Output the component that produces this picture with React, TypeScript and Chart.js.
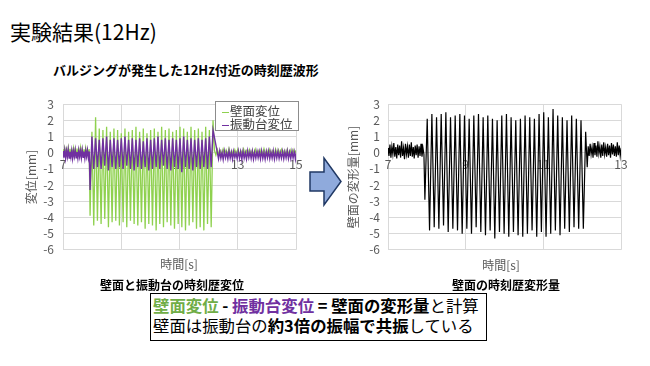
import React, { useEffect, useRef } from "react";
import { Chart, registerables } from "chart.js";

Chart.register(...registerables);

const FONT = "'Noto Sans CJK JP', 'Noto Sans', sans-serif";
const TICK_COLOR = "#595959";
const GRID_COLOR = "#D9D9D9";
const GREEN = "#8FD14F";
const PURPLE = "#7030A0";
const BLACK = "#000000";

// ---------- Axis ranges / tick steps ----------
const Y_MIN = -6;
const Y_MAX = 3;
const Y_STEP = 1;
const LEFT_X_MIN = 7;
const LEFT_X_MAX = 15;
const RIGHT_X_MIN = 7;
const RIGHT_X_MAX = 13;
const X_STEP = 2;

// ---------- Left chart: 壁面変位 (green) ----------
const WALL_PRE_START = 7.0;
const WALL_PRE_STEP = 0.03;
const WALL_PRE = [0.22, -0.12, 0.27, -0.06, 0.2, -0.14, 0.3, -0.09, 0.24, -0.12, 0.17, -0.07, 0.28, -0.14, 0.22, -0.05, 0.26, -0.12, 0.19, -0.08, 0.32, -0.13, 0.23, -0.06, 0.21, -0.1, 0.29, -0.12, 0.18, -0.07, 0.22];
const WALL_OSC_START = 7.93;
const WALL_OSC_STEP = 0.063;
const WALL_LOWS = [-3.9, -4.5, -4.2, -4.4, -4.1, -4.6, -4.3, -4.2, -4.5, -4.3, -4.6, -4.2, -4.4, -4.5, -4.3, -4.7, -4.4, -4.5, -4.8, -4.4, -4.6, -4.3, -4.5, -4.7, -4.4, -4.6, -4.8, -4.5, -4.3, -4.7, -4.6, -4.8, -4.4, -4.6];
const WALL_HIGHS = [1.3, 2.2, 1.5, 1.4, 1.6, 1.3, 1.5, 1.4, 1.2, 1.5, 1.3, 1.4, 1.6, 1.3, 1.5, 1.2, 1.4, 1.5, 1.3, 1.6, 1.4, 1.5, 1.3, 1.4, 1.6, 1.5, 1.3, 1.6, 1.4, 1.5, 1.3, 1.6, 1.4, 2.0];
const WALL_POST_START = 12.2;
const WALL_POST_STEP = 0.05;
const WALL_POST = [0.15, -0.15, 0.2, -0.1, 0.12, -0.18, 0.22, -0.08, 0.16, -0.14, 0.25, -0.12, 0.1, -0.16, 0.18, -0.1, 0.2, -0.15, 0.14, -0.08, 0.23, -0.13, 0.12, -0.17, 0.19, -0.09, 0.16, -0.14, 0.21, -0.11, 0.13, -0.16, 0.18, -0.1, 0.24, -0.12, 0.15, -0.15, 0.2, -0.09, 0.12, -0.17, 0.22, -0.1, 0.17, -0.13, 0.19, -0.11, 0.14, -0.16, 0.21, -0.08, 0.16, -0.14, 0.18, -0.1, 0.15];

// ---------- Left chart: 振動台変位 (purple) ----------
const TABLE_PRE_START = 7.0;
const TABLE_PRE_STEP = 0.03;
const TABLE_PRE = [0.1, -0.3, 0.16, -0.34, 0.12, -0.26, 0.19, -0.33, 0.06, -0.28, 0.14, -0.36, 0.1, -0.24, 0.18, -0.31, 0.04, -0.35, 0.15, -0.25, 0.11, -0.32, 0.17, -0.29, 0.07, -0.35, 0.13, -0.24, 0.16, -0.31, 0.08];
const TABLE_OSC_START = 7.93;
const TABLE_OSC_STEP = 0.063;
const TABLE_LOWS = [-2.3, -1.0, -0.9, -1.0, -0.8, -1.1, -0.9, -1.0, -0.9, -1.0, -0.8, -1.0, -1.1, -0.9, -1.0, -0.9, -1.1, -1.0, -0.9, -1.0, -0.8, -1.0, -1.1, -0.9, -1.0, -1.2, -0.9, -1.0, -1.1, -0.9, -1.0, -0.9, -1.0, -0.9];
const TABLE_HIGHS = [1.0, 0.9, 0.8, 0.9, 1.0, 0.8, 0.9, 0.8, 0.9, 1.0, 0.8, 0.9, 0.8, 0.9, 0.7, 0.9, 0.8, 0.9, 1.0, 0.8, 0.9, 0.8, 0.9, 0.8, 0.9, 1.0, 0.8, 0.9, 0.8, 0.9, 0.8, 0.9, 1.0, 1.4];
const TABLE_POST_START = 12.3;
const TABLE_POST_STEP = 0.04;
const TABLE_POST = [0.0, -0.38, 0.1, -0.34, 0.02, -0.42, 0.1, -0.32, 0.0, -0.38, 0.12, -0.34, 0.04, -0.4, 0.08, -0.3, -0.02, -0.37, 0.11, -0.33, 0.06, -0.41, 0.09, -0.34, 0.01, -0.39, 0.12, -0.31, 0.05, -0.36, 0.1, -0.4, 0.02, -0.34, 0.09, -0.32, 0.07, -0.38, 0.11, -0.35, 0.03, -0.4, 0.08, -0.31, 0.1, -0.37, 0.04, -0.34, 0.12, -0.39, 0.06, -0.33, 0.09, -0.36, 0.02, -0.34, 0.08, -0.38, 0.05, -0.32, 0.11, -0.37, 0.03, -0.35, 0.09, -0.33, 0.06, -0.4, 0.1, -0.31];

// ---------- Right chart: 壁面の変形量 (black) ----------
const DEF_PRE_START = 7.0;
const DEF_PRE_STEP = 0.025;
const DEF_PRE = [0.3, -0.2, 0.5, -0.3, 0.4, -0.1, 0.6, -0.25, 0.35, -0.35, 0.5, -0.15, 0.45, -0.3, 0.7, -0.2, 0.3, -0.4, 0.55, -0.1, 0.4, -0.3, 0.5, -0.2, 0.65, -0.25, 0.35, -0.35, 0.45, -0.15, 0.5, -0.3, 0.4, -0.2, 0.55, -0.25, 0.3, -0.1];
const DEF_OSC_START = 7.95;
const DEF_OSC_STEP = 0.06;
const DEF_LOWS = [-2.9, -4.8, -4.6, -4.7, -4.5, -4.9, -4.7, -4.8, -5.0, -4.7, -5.0, -4.6, -4.9, -5.1, -4.8, -5.3, -4.9, -5.0, -5.2, -4.9, -5.1, -5.2, -5.0, -4.8, -5.2, -4.9, -5.2, -5.0, -4.8, -5.1, -4.7, -4.9, -4.6, -4.7, -4.7];
const DEF_HIGHS = [2.1, 2.4, 2.2, 2.4, 2.5, 2.2, 2.3, 2.4, 2.3, 2.1, 2.3, 2.4, 2.2, 2.3, 2.1, 2.0, 2.3, 2.4, 2.2, 2.0, 2.1, 2.3, 2.2, 2.1, 2.4, 2.5, 2.2, 2.7, 2.3, 2.2, 2.0, 2.3, 2.1, 2.0, 1.3];
const DEF_POST_START = 12.13;
const DEF_POST_STEP = 0.025;
const DEF_POST = [-0.9, 0.4, -0.2, 0.55, -0.1, 0.35, -0.3, 0.6, -0.15, 0.45, -0.25, 0.7, -0.05, 0.4, -0.3, 0.5, -0.2, 0.65, -0.1, 0.35, -0.25, 0.55, -0.15, 0.45, -0.3, 0.6, -0.1, 0.5, -0.2, 0.4, -0.25, 0.65, -0.15, 0.45, -0.2, 0.3, 0.4];

type Pt = { x: number; y: number };

function run(values: number[], start: number, step: number): Pt[] {
  return values.map((y, i) => ({ x: +(start + i * step).toFixed(4), y }));
}
function interleave(lows: number[], highs: number[]): number[] {
  const out: number[] = [];
  lows.forEach((lo, i) => out.push(lo, highs[i]));
  return out;
}

const wallPts = [
  ...run(WALL_PRE, WALL_PRE_START, WALL_PRE_STEP),
  ...run(interleave(WALL_LOWS, WALL_HIGHS), WALL_OSC_START, WALL_OSC_STEP),
  ...run(WALL_POST, WALL_POST_START, WALL_POST_STEP),
];
const tablePts = [
  ...run(TABLE_PRE, TABLE_PRE_START, TABLE_PRE_STEP),
  ...run(interleave(TABLE_LOWS, TABLE_HIGHS), TABLE_OSC_START, TABLE_OSC_STEP),
  ...run(TABLE_POST, TABLE_POST_START, TABLE_POST_STEP),
];
const defPts = [
  ...run(DEF_PRE, DEF_PRE_START, DEF_PRE_STEP),
  ...run(interleave(DEF_LOWS, DEF_HIGHS), DEF_OSC_START, DEF_OSC_STEP),
  ...run(DEF_POST, DEF_POST_START, DEF_POST_STEP),
];

function makeOptions(xMin: number, xMax: number, yTitle: string, yAxisWidth: number, titlePad: number, tickPad: number): any {
  const tickFont = { family: FONT, size: 12 };
  return {
    animation: false,
    responsive: false,
    maintainAspectRatio: false,
    layout: { padding: { left: 0, right: 20, top: 10, bottom: 10 } },
    plugins: { legend: { display: false }, tooltip: { enabled: false } },
    elements: { point: { radius: 0 }, line: { tension: 0 } },
    scales: {
      x: {
        type: "linear",
        min: xMin,
        max: xMax,
        position: { y: 0 },
        ticks: { stepSize: X_STEP, color: TICK_COLOR, font: tickFont, padding: 5, maxRotation: 0, autoSkip: false },
        grid: { color: GRID_COLOR, drawTicks: false },
        border: { display: false },
      },
      y: {
        type: "linear",
        min: Y_MIN,
        max: Y_MAX,
        ticks: { stepSize: Y_STEP, color: TICK_COLOR, font: tickFont, padding: tickPad, autoSkip: false },
        grid: { color: GRID_COLOR, drawTicks: false },
        border: { display: false },
        title: { display: true, text: yTitle, color: TICK_COLOR, font: { family: FONT, size: 12 }, padding: { top: titlePad, bottom: 0 } },
        afterFit: (s: any) => { s.width = yAxisWidth; },
      },
    },
  };
}

function LeftChart() {
  const ref = useRef<HTMLCanvasElement>(null);
  useEffect(() => {
    const chart = new Chart(ref.current as HTMLCanvasElement, {
      type: "line",
      data: {
        datasets: [
          { label: "振動台変位", data: tablePts, borderColor: PURPLE, borderWidth: 1.4, pointRadius: 0, order: 0 },
          { label: "壁面変位", data: wallPts, borderColor: GREEN, borderWidth: 1.3, pointRadius: 0, order: 1 },
        ],
      },
      options: makeOptions(LEFT_X_MIN, LEFT_X_MAX, "変位[mm]", 63, 24, 9),
    });
    return () => chart.destroy();
  }, []);
  return <canvas ref={ref} width={316} height={178} style={{ position: "absolute", left: 0, top: 88 }} />;
}

function RightChart() {
  const ref = useRef<HTMLCanvasElement>(null);
  useEffect(() => {
    const chart = new Chart(ref.current as HTMLCanvasElement, {
      type: "line",
      data: {
        datasets: [
          { label: "壁面の変形量", data: defPts, borderColor: BLACK, borderWidth: 1.2, pointRadius: 0 },
        ],
      },
      options: makeOptions(RIGHT_X_MIN, RIGHT_X_MAX, "壁面の変形量[mm]", 58, 16, 8),
    });
    return () => chart.destroy();
  }, []);
  return <canvas ref={ref} width={311} height={176} style={{ position: "absolute", left: 330, top: 89 }} />;
}

const abs = (s: React.CSSProperties): React.CSSProperties => ({ position: "absolute", whiteSpace: "nowrap", fontFamily: FONT, ...s });

export default function App() {
  return (
    <div style={{ position: "absolute", left: 0, top: 0, width: 650, height: 366, background: "#fff", overflow: "hidden", fontFamily: FONT }}>
      <div style={abs({ left: 10, top: 21, fontSize: 21, lineHeight: "21px", color: "#000" })}>実験結果(12Hz)</div>
      <div style={abs({ left: 53, top: 63, fontSize: 13, lineHeight: "13px", fontWeight: 700, color: "#000" })}>バルジングが発生した12Hz付近の時刻歴波形</div>

      <LeftChart />
      <RightChart />

      {/* legend of left chart */}
      <div style={abs({ left: 215, top: 101, width: 84, height: 30, boxSizing: "border-box", border: "1px solid #8C8C8C", background: "#fff", padding: "2px 0 0 6px", fontSize: 12.5, lineHeight: "13px", color: "#404040" })}>
        <div><span style={{ display: "inline-block", width: 7, height: 1.5, background: GREEN, verticalAlign: "middle", marginRight: 1 }} />壁面変位</div>
        <div><span style={{ display: "inline-block", width: 7, height: 1.5, background: PURPLE, verticalAlign: "middle", marginRight: 1 }} />振動台変位</div>
      </div>

      <div style={abs({ left: 129, top: 258, width: 100, textAlign: "center", fontSize: 12, lineHeight: "12px", color: TICK_COLOR })}>時間[s]</div>
      <div style={abs({ left: 100, top: 279, fontSize: 12, lineHeight: "12px", fontWeight: 700, color: "#000" })}>壁面と振動台の時刻歴変位</div>

      <div style={abs({ left: 451, top: 259, width: 100, textAlign: "center", fontSize: 12, lineHeight: "12px", color: TICK_COLOR })}>時間[s]</div>
      <div style={abs({ left: 452, top: 279, fontSize: 12, lineHeight: "12px", fontWeight: 700, color: "#000" })}>壁面の時刻歴変形量</div>

      <svg width={650} height={366} style={{ position: "absolute", left: 0, top: 0, pointerEvents: "none" }}>
        <polygon points="310,172 324,172 324,158 341,181.5 324,205 324,191 310,191" fill="#8FAADC" stroke="#203864" strokeWidth={1.5} />
      </svg>

      <div style={abs({ left: 150, top: 293, width: 337, height: 48, boxSizing: "border-box", border: "1.5px solid #000", background: "#fff", padding: "0.5px 0 0 2px", fontSize: 16.4, lineHeight: "20px", color: "#000" })}>
        <div>
          <b style={{ color: "#70AD47" }}>壁面変位</b>
          <b> - </b>
          <b style={{ color: PURPLE }}>振動台変位</b>
          <b> = 壁面の変形量</b>と計算
        </div>
        <div>
          壁面は振動台の<b>約3倍の振幅で共振</b>している
        </div>
      </div>
    </div>
  );
}
